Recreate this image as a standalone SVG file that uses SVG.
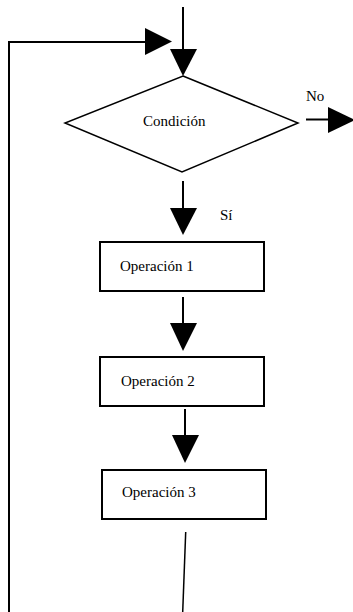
<svg xmlns="http://www.w3.org/2000/svg" width="353" height="612" viewBox="0 0 353 612">
<style>
.ln{stroke:#000;stroke-width:2;fill:none}
.thin{stroke:#000;stroke-width:1.5;fill:none}
.box{stroke:#000;stroke-width:2;fill:#fff}
.head{fill:#000;stroke:none}
text{font-family:'Liberation Serif','Times New Roman',serif;font-size:15px;fill:#000}
</style>
<rect width="353" height="612" fill="#fff"/>
<g id="connectors">
  <line class="ln" x1="183" y1="7" x2="183" y2="50"/>
  <polygon class="head" points="170,49 197,49 183,76"/>
  <polyline class="ln" points="9,612 9,42 146,42"/>
  <polygon class="head" points="145,28 145,55 172,41.5"/>
  <line class="ln" x1="306" y1="119.5" x2="329" y2="119.5"/>
  <polygon class="head" points="328,107 328,133 355,120"/>
  <line class="ln" x1="183" y1="181" x2="183" y2="209"/>
  <polygon class="head" points="170,208 197,208 183,235"/>
  <line class="ln" x1="183" y1="297" x2="183" y2="324"/>
  <polygon class="head" points="170,323 197,323 183,351"/>
  <line class="ln" x1="185" y1="409" x2="185" y2="436"/>
  <polygon class="head" points="172,435 199,435 185,463"/>
  <line class="thin" x1="185.7" y1="532" x2="182.7" y2="612"/>
  <text x="306" y="101">No</text>
  <text x="220" y="220">Sí</text>
</g>
<g id="condicion">
  <polygon class="thin" points="183,76 298,123 182,172 65,123" fill="#fff"/>
  <text x="143" y="126">Condición</text>
</g>
<g id="operacion1">
  <rect class="box" x="100" y="242" width="164" height="49"/>
  <text x="120" y="271">Operación 1</text>
</g>
<g id="operacion2">
  <rect class="box" x="100" y="357" width="164" height="49"/>
  <text x="121" y="386">Operación 2</text>
</g>
<g id="operacion3">
  <rect class="box" x="102" y="470" width="164" height="49"/>
  <text x="122" y="497">Operación 3</text>
</g>
</svg>
